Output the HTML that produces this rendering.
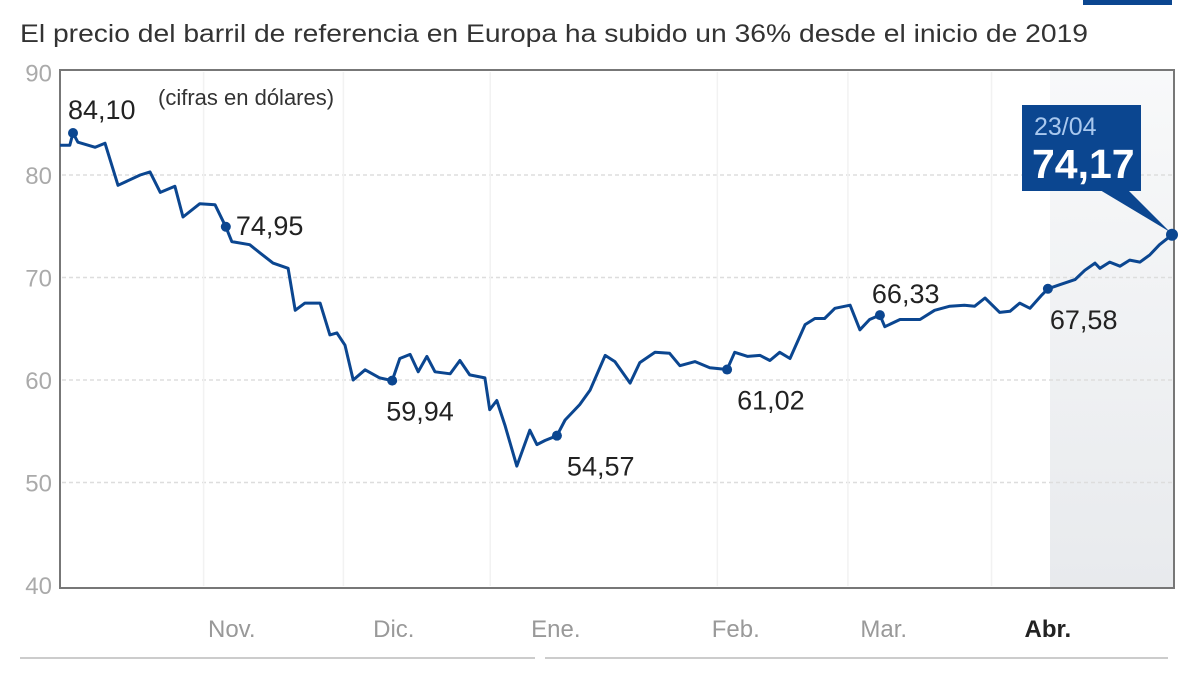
<!DOCTYPE html>
<html><head><meta charset="utf-8"><style>
body{margin:0;background:#fff;}
svg{display:block;font-family:"Liberation Sans Narrow","Liberation Sans",sans-serif;}
</style></head><body>
<svg id="chart" width="1200" height="675" viewBox="0 0 1200 675">
<defs><linearGradient id="shadeG" x1="0" y1="0" x2="0" y2="1"><stop offset="0" stop-color="#f8f9fa"/><stop offset="1" stop-color="#e8eaed"/></linearGradient></defs>
<rect x="1083" y="0" width="89" height="5" fill="#0b4690"/>
<text x="20" y="42" font-size="25" fill="#333" textLength="1068" lengthAdjust="spacingAndGlyphs">El precio del barril de referencia en Europa ha subido un 36% desde el inicio de 2019</text>
<rect x="1050" y="70" width="124" height="518" fill="url(#shadeG)"/>
<g id="grid"></g>
<rect x="60" y="70" width="1114" height="518" fill="none" stroke="#777" stroke-width="2"/>
<g id="yticks"></g><g id="xticks"></g>
<text x="158" y="105" font-size="22" fill="#333">(cifras en dólares)</text>
<path id="line" fill="none" stroke="#0b4690" stroke-width="3" stroke-linejoin="round"/>
<g id="marks"></g>
<g>
<rect x="1022" y="105" width="119" height="86" fill="#0b4690"/>
<polygon points="1100,190 1128,190 1170,232" fill="#0b4690"/>
<text x="1034" y="135" font-size="25" fill="#a9c8ee">23/04</text>
<text x="1032" y="178" font-size="41" font-weight="bold" fill="#fff">74,17</text>
</g>
<line x1="20" y1="658" x2="535" y2="658" stroke="#ccc" stroke-width="2"/>
<line x1="545" y1="658" x2="1168" y2="658" stroke="#ccc" stroke-width="2"/>
</svg>
<script>
const days=[0,1.8,2.4,3.3,6.5,8.3,10.7,14.8,16.6,18.5,21.2,22.7,25.8,28.6,30.6,31.7,35,36.9,39.3,42.1,43.4,45.2,48,49.8,51.1,52.6,54.1,56.3,59,61.3,62.7,64.6,66.1,67.7,69.2,72,73.8,75.6,78.4,79.3,80.6,82.1,84.3,86.7,88,89.5,91.7,93.2,95.9,97.8,100.6,102.4,105.2,107,109.8,112.5,114.4,117.2,119.9,123.1,124.5,126.9,129.2,131,132.8,134.7,137.5,139.3,141.1,143,145.8,147.6,149.4,151.3,152.2,155,158.7,161.4,164.2,166.9,168.8,170.7,173.4,175.3,177.1,179,181.2,182.3,184.5,187.3,189.1,191,191.9,193.7,195.6,197.4,199.3,201.1,202.9,205.2];
const prices=[82.9,82.9,84.1,83.2,82.7,83.1,79.0,80.0,80.3,78.3,78.9,75.9,77.2,77.1,74.95,73.5,73.2,72.4,71.4,70.9,66.8,67.5,67.5,64.4,64.6,63.4,60.0,61.0,60.2,59.94,62.1,62.5,60.8,62.3,60.8,60.6,61.9,60.5,60.2,57.1,58.0,55.6,51.6,55.1,53.7,54.1,54.57,56.1,57.6,59.0,62.4,61.8,59.7,61.7,62.7,62.6,61.4,61.8,61.2,61.02,62.7,62.3,62.4,61.9,62.7,62.1,65.4,66.0,66.0,67.0,67.3,64.9,65.9,66.33,65.2,65.9,65.9,66.8,67.2,67.3,67.2,68.0,66.6,66.7,67.5,67.0,68.3,68.9,69.3,69.8,70.7,71.4,70.9,71.5,71.1,71.7,71.5,72.2,73.2,74.17];
const yTicks=[90,80,70,60,50,40];
const monthLabels=["Nov.","Dic.","Ene.","Feb.","Mar.","Abr."];
const monthDays=[31.7,61.6,91.5,124.7,152,182.3];
const gridDays=[26.5,52.3,79.4,121.3,145.4,171.9];
const markIdx=[2,14,29,46,59,73,87];
const markLabels=["84,10","74,95","59,94","54,57","61,02","66,33","67,58"];
const markOff=[[-5,-22],[10,0],[-6,32],[10,32],[10,32],[-8,-20],[2,32]];
const X=d=>60+(d-0)/(205.2)*1112;
const Y=v=>72.5+(90-v)*10.25;
const NS="http://www.w3.org/2000/svg";
function mk(tag,attrs,parent){const e=document.createElementNS(NS,tag);for(const k in attrs)e.setAttribute(k,attrs[k]);parent.appendChild(e);return e;}
const grid=document.getElementById('grid'),yt=document.getElementById('yticks'),xt=document.getElementById('xticks'),marks=document.getElementById('marks');
yTicks.forEach(v=>{
 if(v!==90&&v!==40){const l=mk('line',{x1:62,x2:1172,y1:Y(v),y2:Y(v),stroke:'#ddd','stroke-width':1.5,'stroke-dasharray':'4 3'},grid);
 
 }
 const t=mk('text',{x:52,y:Y(v)+9,'font-size':24,fill:'#aaa','text-anchor':'end'},yt);t.textContent=v;
 
 
});
gridDays.forEach(d=>{const l=mk('line',{x1:X(d),x2:X(d),y1:72,y2:586,stroke:'#f2f2f2','stroke-width':1.5},grid);
 
 });
monthLabels.forEach((m,i)=>{const t=mk('text',{x:X(monthDays[i]),y:637,'font-size':24,fill:i===5?'#222':'#999','font-weight':i===5?'bold':'normal','text-anchor':'middle'},xt);t.textContent=m;
 
 });
document.getElementById('line').setAttribute('d',days.map((d,i)=>(i?'L':'M')+X(d).toFixed(1)+','+Y(prices[i]).toFixed(1)).join(''));
markIdx.forEach((k,i)=>{
 const c=mk('circle',{cx:X(days[k]),cy:Y(prices[k]),r:5,fill:'#0b4690'},marks);
 
 
 const t=mk('text',{x:X(days[k])+markOff[i][0],y:Y(prices[k])+markOff[i][1]+8,'font-size':27,fill:'#222'},marks);t.textContent=markLabels[i];
 
 
});
const last=days.length-1;
const e=mk('circle',{cx:X(days[last]),cy:Y(prices[last]),r:6,fill:'#0b4690'},marks);


</script>
</body></html>
